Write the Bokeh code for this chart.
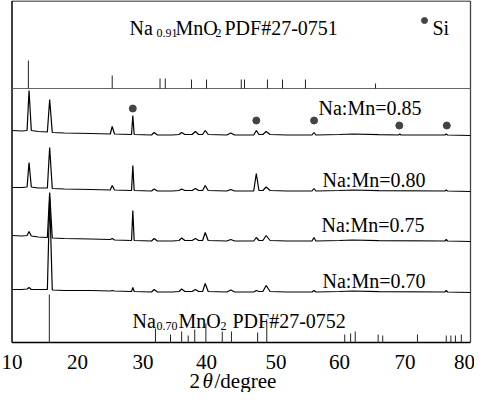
from bokeh.plotting import figure
from bokeh.models import Label, Range1d
from bokeh.core.properties import value
from bokeh.embed import file_html
from bokeh.resources import INLINE

# ---------------- data ----------------
# Na:Mn = 0.85
x85 = [10, 11.5, 12.3, 12.6, 12.95, 14, 15.4, 15.75, 16.15, 18, 22, 25.0, 25.3, 25.65,
       28.25, 28.45, 28.65, 31.3, 31.7, 32.2, 34.5, 35.5, 35.9, 36.4, 37.5, 38.0, 38.5,
       39.1, 39.5, 39.95, 42.8, 43.4, 44.0, 46.9, 47.3, 47.7, 48.3, 48.8, 49.4, 52, 55.8,
       56.1, 56.4, 60, 62, 66, 69.0, 69.2, 69.4, 76.1, 76.3, 76.5, 80]
y85 = [5, 4.5, 5, 45, 5, 4, 3.5, 36, 3, 2.5, 2, 1.5, 9, 1.5,
       1, 20, 1, 0.5, 3, 0.5, 0.5, 1, 3, 1, 1, 4, 1,
       1, 5, 1, 0.5, 2.5, 0.5, 0.5, 5, 1, 1, 4, 1, 0.5, 0.5,
       3, 0.5, 1, 1.5, 0.8, 0.5, 1.5, 0.5, 0.5, 1.5, 0.5, 0]
# Na:Mn = 0.80
x80 = [10, 11.5, 12.3, 12.6, 12.95, 14, 15.4, 15.75, 16.15, 18, 22, 25.0, 25.3, 25.65,
       28.25, 28.45, 28.65, 31.3, 31.7, 32.2, 34.5, 35.5, 35.9, 36.4, 37.5, 38.0, 38.5,
       39.1, 39.5, 39.95, 42.8, 43.4, 44.0, 46.9, 47.3, 47.7, 48.3, 48.8, 49.4, 52, 55.8,
       56.1, 56.4, 60, 62, 66, 76.1, 76.3, 76.5, 80]
y80 = [4, 4, 4.5, 29, 4.5, 3.5, 3.5, 44, 3, 2.5, 2, 1.5, 6, 1.5,
       1, 26, 1, 0.5, 2.5, 0.5, 0.5, 1, 2.5, 1, 1, 3, 1,
       1, 6, 1, 0.5, 2, 0.5, 0.5, 18, 1, 1, 4.5, 1, 0.5, 0.5,
       3, 0.5, 1, 1.5, 0.8, 0.5, 1.5, 0.5, 0]
# Na:Mn = 0.75
x75 = [10, 11.5, 12.3, 12.6, 12.95, 14, 15.4, 15.75, 16.15, 18, 22, 25.0, 25.3, 25.65,
       28.25, 28.45, 28.65, 31.3, 31.7, 32.2, 34.5, 35.5, 35.9, 36.4, 37.5, 38.0, 38.5,
       39.1, 39.5, 39.95, 42.8, 43.4, 44.0, 46.9, 47.3, 47.7, 48.3, 48.8, 49.4, 52, 55.8,
       56.1, 56.4, 60, 62, 66, 76.1, 76.3, 76.5, 80]
y75 = [6, 5.5, 6, 10, 5.5, 4.5, 4, 49, 3.5, 3, 2.5, 2, 3, 1.5,
       1, 31, 1, 0.5, 3, 0.5, 0.5, 1, 3.5, 1, 1, 3, 1,
       1, 9, 1, 0.5, 2, 0.5, 0.5, 4, 1, 1, 6, 1, 0.5, 0.5,
       4, 0.5, 1, 1.5, 0.8, 0.5, 2, 0.5, 0]
# Na:Mn = 0.70
x70 = [10, 11.5, 12.3, 12.6, 12.95, 14, 15.4, 15.75, 16.15, 18, 22, 25.0, 25.3, 25.65,
       28.25, 28.45, 28.65, 31.3, 31.7, 32.2, 34.5, 35.5, 35.9, 36.4, 37.5, 38.0, 38.5,
       39.1, 39.5, 39.95, 42.8, 43.4, 44.0, 46.9, 47.3, 47.7, 48.3, 48.8, 49.4, 52, 55.8,
       56.1, 56.4, 60, 62, 66, 76.1, 76.3, 76.5, 80]
y70 = [3, 3, 3.5, 5, 3, 3, 3, 95, 2.5, 2, 2, 1.5, 2, 1.5,
       1, 5, 1, 0.5, 3, 0.5, 0.5, 1, 3.5, 1, 1, 3, 1,
       1, 9, 1, 0.5, 2.5, 0.5, 0.5, 2, 1, 1, 7, 1, 0.5, 0.5,
       2, 0.5, 1, 1.5, 0.8, 0.5, 2, 0.5, 0]

# Si reflections (marked with dots on the 0.85 pattern)
si_pos = [28.44, 47.30, 56.12, 69.13, 76.38]
si_mark = [27, 15, 15, 10, 10]

# Reference patterns
pdf0751_pos = [12.5, 25.3, 32.6, 33.4, 37.4, 39.7, 45.0, 45.5, 49.0, 51.3, 54.8, 65.5]
pdf0751_int = [28, 13, 10, 10, 9, 9, 9, 9, 9, 9, 9, 5]
pdf0752_pos = [15.7, 31.9, 34.2, 35.9, 36.9, 37.9, 39.6, 42.1, 43.5, 47.5, 48.9,
               60.8, 61.7, 62.4, 65.9, 66.6, 71.9, 76.3, 77.0, 77.7, 78.6]
pdf0752_int = [48, 14, 8, 11, 7, 13, 19, 11, 11, 10, 21, 8, 9, 11, 8, 7, 8, 7, 7, 7, 8]

x_ticks = [10, 20, 30, 40, 50, 60, 70, 80]
x_tick_labels = ["10", "20", "30", "40", "50", "60", "70", "80"]
labels = ["Na:Mn=0.85", "Na:Mn=0.80", "Na:Mn=0.75", "Na:Mn=0.70"]

# ---------------- layout constants ----------------
off85, off80, off75, off70 = 207, 151, 101, 50
sep = 254
XMIN, XMAX = 10, 80
FONT = "Liberation Serif, Times New Roman, Times, serif"
W, H = 474, 392
# pixel positions of 2theta = 10 and 80 on the page
PX10, PX80 = 19.5, 478.0
ppd = (PX80 - PX10) / (XMAX - XMIN)
XR = (XMIN - (PX10 - 8) / ppd, XMAX + (8 + W - PX80) / ppd)
YR = (350 - (8 + H), 342)


def px2x(px):
    return XR[0] + (px - 8) / ppd


def px2y(py):
    return 350 - py


p = figure(width=W, height=H, output_backend="svg", toolbar_location=None,
           x_axis_type=None, y_axis_type=None,
           x_range=Range1d(*XR), y_range=Range1d(*YR),
           min_border_left=0, min_border_right=0,
           min_border_top=0, min_border_bottom=0)
p.grid.visible = False
p.outline_line_color = None
p.background_fill_color = "white"
p.border_fill_color = "white"

# frame box
p.line([XMIN, XMAX], [341.5, 341.5], line_color="#444444", line_width=1.3)
p.line([XMAX, XMAX], [0, 341.5], line_color="#444444", line_width=1.3)
p.line([XMIN, XMIN], [0, 341.5], line_color="black", line_width=1.5)
p.line([XMIN, XMAX], [0, 0], line_color="black", line_width=1.5)
# separator of the top reference pattern
p.line([XMIN, XMAX], [sep, sep], line_color="#666666", line_width=1)

# x tick labels
p.text(x=x_ticks, y=[px2y(369)] * len(x_ticks), text=x_tick_labels,
       x_offset=[0, 0, 0, -2, 2, 0, 0, -6],
       text_font=value(FONT), text_font_size="21px", text_align="center",
       text_baseline="middle", text_color="black")

# patterns
for xs, ys, off in [(x85, y85, off85), (x80, y80, off80), (x75, y75, off75), (x70, y70, off70)]:
    p.line(xs, [v + off for v in ys], line_color="black", line_width=1.2)

# Si markers
p.scatter(si_pos, [v + off85 for v in si_mark], marker="circle", size=7,
          fill_color="#444444", line_color="#444444")

# reference sticks
p.segment(x0=pdf0751_pos, y0=[sep] * len(pdf0751_pos), x1=pdf0751_pos,
          y1=[sep + h for h in pdf0751_int], line_color="#222222", line_width=1)
p.segment(x0=pdf0752_pos, y0=[0] * len(pdf0752_pos), x1=pdf0752_pos,
          y1=[h for h in pdf0752_int], line_color="#222222", line_width=1)


def lab(txt, px, py, size="20px", style="normal", base="alphabetic"):
    p.add_layout(Label(x=px2x(px), y=px2y(py), text=txt, text_font=FONT,
                       text_font_size=size, text_font_style=style,
                       text_baseline=base, text_align="left", text_color="black"))


# sample labels
for t, (lx, ly) in zip(labels, [(326, 115), (330, 187), (329, 232), (330, 288)]):
    lab(t, lx, ly, base="middle")

# top reference label
lab("Na", 137, 35)
lab("0.91", 164, 40, size="12px")
lab("MnO", 183, 35)
lab("2", 223, 40, size="12px")
lab("PDF#27-0751", 232, 35)

# Si legend
p.scatter([px2x(432)], [px2y(28)], marker="circle", size=6,
          fill_color="#444444", line_color="#444444")
lab("Si", 440, 35)

# bottom reference label
lab("Na", 140, 328)
lab("0.70", 164, 333, size="12px")
lab("MnO", 186, 328)
lab("2", 228, 333, size="12px")
lab("PDF#27-0752", 240, 328)

# axis title (all parts on one alphabetic baseline)
lab("2", 197, 388, size="21px")
lab("θ", 210, 388, size="21px", style="italic")
lab("/degree", 222, 388, size="21px")

open("out.html", "w").write(file_html(p, INLINE))
